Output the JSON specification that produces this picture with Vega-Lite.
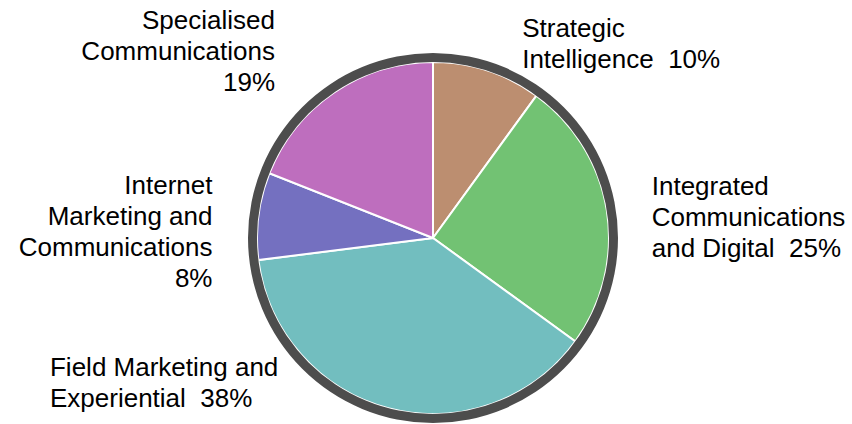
{
  "$schema": "https://vega.github.io/schema/vega-lite/v6.json",
  "width": 838,
  "height": 372,
  "autosize": {"type": "none"},
  "padding": {"left": 14, "top": 52, "right": 0, "bottom": 0},
  "background": "white",
  "config": {"view": {"stroke": null}},
  "data": {
    "values": [
      {"key": "Strategic Intelligence", "label": "Strategic\nIntelligence\u00a0 10%", "value": 10, "rank": 1},
      {"key": "Integrated Communications and Digital", "label": "Integrated\nCommunications\nand Digital\u00a0 25%", "value": 25, "rank": 2},
      {"key": "Field Marketing and Experiential", "label": "Field Marketing and\nExperiential\u00a0 38%", "value": 38, "rank": 3},
      {"key": "Internet Marketing and Communications", "label": "Internet\nMarketing and\nCommunications\n8%", "value": 8, "rank": 4},
      {"key": "Specialised Communications", "label": "Specialised\nCommunications\n19%", "value": 19, "rank": 5}
    ]
  },
  "encoding": {
    "theta": {"field": "value", "type": "quantitative", "stack": true},
    "order": {"field": "rank", "type": "quantitative"}
  },
  "layer": [
    {
      "mark": {"type": "arc", "radius": 176, "stroke": "white", "strokeWidth": 2},
      "encoding": {
        "color": {
          "field": "key", "type": "nominal", "legend": null,
          "scale": {
            "domain": ["Strategic Intelligence", "Integrated Communications and Digital", "Field Marketing and Experiential", "Internet Marketing and Communications", "Specialised Communications"],
            "range": ["#BC8E70", "#72C273", "#72BEBF", "#7470C0", "#BE6EBE"]
          }
        }
      }
    },
    {
      "data": {"values": [{"ring": 1}]},
      "mark": {"type": "arc", "radius": 185, "radius2": 176, "theta": 0, "theta2": 6.2832, "fill": "#4D4D4D"},
      "encoding": {"theta": null, "order": null}
    },
    {
      "mark": {"type": "text", "radius": 185, "align": "left", "baseline": "alphabetic", "dx": 32, "dy": -25, "lineBreak": "\n", "font": "Liberation Sans", "fontSize": 26, "lineHeight": 31, "fill": "black"},
      "encoding": {"text": {"condition": {"test": "datum.rank === 1", "field": "label"}, "value": ""}}
    },
    {
      "mark": {"type": "text", "radius": 185, "align": "left", "baseline": "alphabetic", "dx": 36, "dy": -14, "lineBreak": "\n", "font": "Liberation Sans", "fontSize": 26, "lineHeight": 31, "fill": "black"},
      "encoding": {"text": {"condition": {"test": "datum.rank === 2", "field": "label"}, "value": ""}}
    },
    {
      "mark": {"type": "text", "radius": 185, "align": "left", "baseline": "alphabetic", "dx": -337, "dy": -41, "lineBreak": "\n", "font": "Liberation Sans", "fontSize": 26, "lineHeight": 31, "fill": "black"},
      "encoding": {"text": {"condition": {"test": "datum.rank === 3", "field": "label"}, "value": ""}}
    },
    {
      "mark": {"type": "text", "radius": 185, "align": "right", "baseline": "alphabetic", "dx": -37, "dy": -21, "lineBreak": "\n", "font": "Liberation Sans", "fontSize": 26, "lineHeight": 31, "fill": "black"},
      "encoding": {"text": {"condition": {"test": "datum.rank === 4", "field": "label"}, "value": ""}}
    },
    {
      "mark": {"type": "text", "radius": 185, "align": "right", "baseline": "alphabetic", "dx": -54, "dy": -56, "lineBreak": "\n", "font": "Liberation Sans", "fontSize": 26, "lineHeight": 31, "fill": "black"},
      "encoding": {"text": {"condition": {"test": "datum.rank === 5", "field": "label"}, "value": ""}}
    }
  ]
}
